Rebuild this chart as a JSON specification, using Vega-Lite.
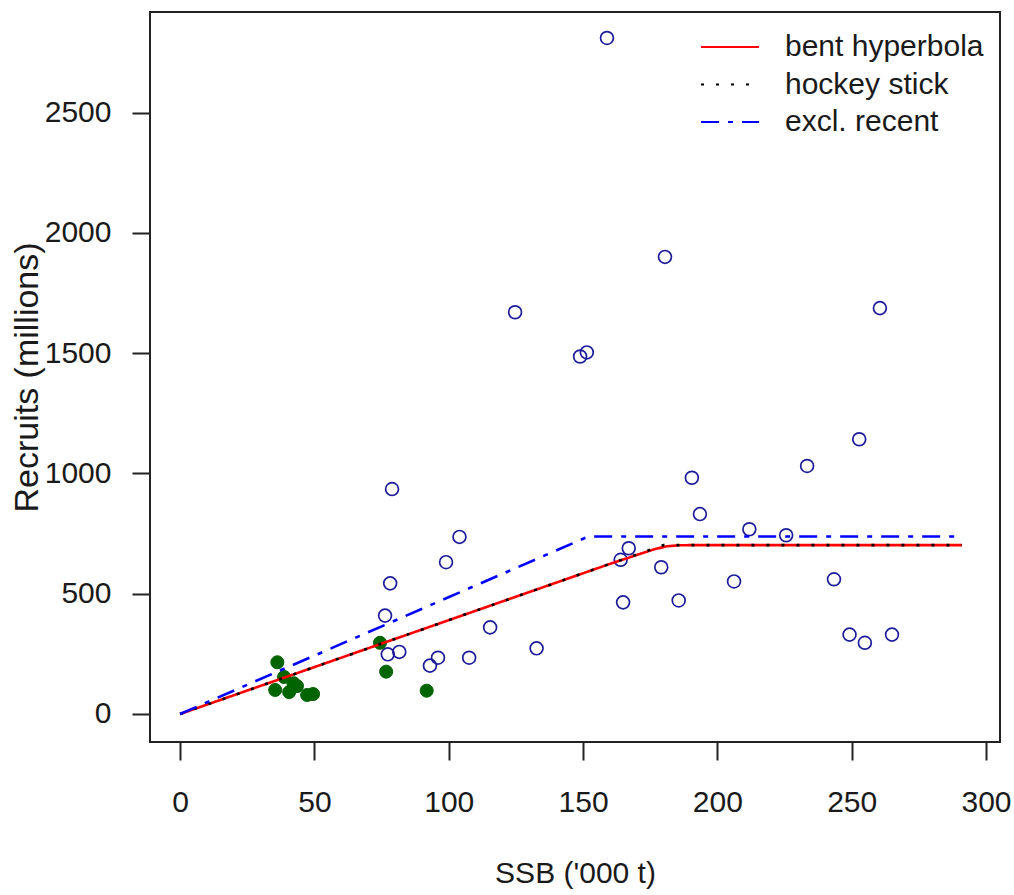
{
  "$schema": "https://vega.github.io/schema/vega-lite/v6.json",
  "width": 850,
  "height": 730,
  "autosize": {"type": "none"},
  "padding": {"left": 150, "top": 12, "right": 14, "bottom": 153},
  "background": "white",
  "config": {
    "view": {"stroke": "#222222", "strokeWidth": 2},
    "font": "Liberation Sans",
    "axis": {
      "grid": false,
      "domain": false,
      "tickColor": "#222222",
      "tickWidth": 2,
      "tickSize": 18,
      "labelFont": "Liberation Sans",
      "labelFontSize": 30,
      "labelColor": "#1a1a1a",
      "titleFont": "Liberation Sans",
      "titleFontSize": 30,
      "titleFontWeight": "normal",
      "titleColor": "#1a1a1a",
      "labelFlush": false,
      "labelOverlap": false,
      "labelBound": false
    }
  },
  "datasets": {
    "pts": [
      {"ssb": 158.9, "rec": 2810, "type": "old"},
      {"ssb": 180.5, "rec": 1900, "type": "old"},
      {"ssb": 260.5, "rec": 1687, "type": "old"},
      {"ssb": 124.7, "rec": 1670, "type": "old"},
      {"ssb": 148.9, "rec": 1486, "type": "old"},
      {"ssb": 151.4, "rec": 1503, "type": "old"},
      {"ssb": 252.8, "rec": 1142, "type": "old"},
      {"ssb": 233.4, "rec": 1031, "type": "old"},
      {"ssb": 190.5, "rec": 982, "type": "old"},
      {"ssb": 78.9, "rec": 935, "type": "old"},
      {"ssb": 193.5, "rec": 831, "type": "old"},
      {"ssb": 211.9, "rec": 768, "type": "old"},
      {"ssb": 225.6, "rec": 743, "type": "old"},
      {"ssb": 104.0, "rec": 736, "type": "old"},
      {"ssb": 99.0, "rec": 631, "type": "old"},
      {"ssb": 167.0, "rec": 689, "type": "old"},
      {"ssb": 164.0, "rec": 641, "type": "old"},
      {"ssb": 78.2, "rec": 543, "type": "old"},
      {"ssb": 179.1, "rec": 610, "type": "old"},
      {"ssb": 206.2, "rec": 551, "type": "old"},
      {"ssb": 243.4, "rec": 560, "type": "old"},
      {"ssb": 164.9, "rec": 464, "type": "old"},
      {"ssb": 185.6, "rec": 472, "type": "old"},
      {"ssb": 249.2, "rec": 330, "type": "old"},
      {"ssb": 254.9, "rec": 296, "type": "old"},
      {"ssb": 265.0, "rec": 330, "type": "old"},
      {"ssb": 76.3, "rec": 409, "type": "old"},
      {"ssb": 115.4, "rec": 360, "type": "old"},
      {"ssb": 77.3, "rec": 248, "type": "old"},
      {"ssb": 81.6, "rec": 258, "type": "old"},
      {"ssb": 93.0, "rec": 201, "type": "old"},
      {"ssb": 96.0, "rec": 234, "type": "old"},
      {"ssb": 107.6, "rec": 234, "type": "old"},
      {"ssb": 132.7, "rec": 273, "type": "old"},
      {"ssb": 36.2, "rec": 215, "type": "recent"},
      {"ssb": 38.7, "rec": 154, "type": "recent"},
      {"ssb": 35.4, "rec": 100, "type": "recent"},
      {"ssb": 40.6, "rec": 91, "type": "recent"},
      {"ssb": 43.5, "rec": 116, "type": "recent"},
      {"ssb": 42.2, "rec": 128, "type": "recent"},
      {"ssb": 47.3, "rec": 79, "type": "recent"},
      {"ssb": 49.5, "rec": 83, "type": "recent"},
      {"ssb": 74.4, "rec": 296, "type": "recent"},
      {"ssb": 76.7, "rec": 176, "type": "recent"},
      {"ssb": 91.8, "rec": 97, "type": "recent"}
    ],
    "fits": [
      {"model": "bent hyperbola", "ssb": 0, "rec": 0},
      {"model": "bent hyperbola", "ssb": 160, "rec": 624},
      {"model": "bent hyperbola", "ssb": 170, "rec": 661},
      {"model": "bent hyperbola", "ssb": 176, "rec": 683},
      {"model": "bent hyperbola", "ssb": 181, "rec": 697},
      {"model": "bent hyperbola", "ssb": 186, "rec": 701.5},
      {"model": "bent hyperbola", "ssb": 192, "rec": 702},
      {"model": "bent hyperbola", "ssb": 291, "rec": 702},
      {"model": "hockey stick", "ssb": 0, "rec": 0},
      {"model": "hockey stick", "ssb": 180, "rec": 702},
      {"model": "hockey stick", "ssb": 291, "rec": 702},
      {"model": "excl. recent", "ssb": 0, "rec": 0},
      {"model": "excl. recent", "ssb": 152, "rec": 738},
      {"model": "excl. recent", "ssb": 291, "rec": 738}
    ]
  },
  "layer": [
    {
      "data": {"name": "pts"},
      "transform": [{"filter": "datum.type === 'old'"}],
      "mark": {"type": "point", "shape": "circle", "filled": false, "stroke": "#1c1c9a", "strokeWidth": 1.7, "size": 165, "opacity": 1},
      "encoding": {
        "x": {"field": "ssb", "type": "quantitative"},
        "y": {"field": "rec", "type": "quantitative"}
      }
    },
    {
      "data": {"name": "pts"},
      "transform": [{"filter": "datum.type === 'recent'"}],
      "mark": {"type": "point", "shape": "circle", "filled": true, "fill": "#006400", "stroke": "#006400", "strokeWidth": 1, "size": 170, "opacity": 1},
      "encoding": {
        "x": {"field": "ssb", "type": "quantitative"},
        "y": {"field": "rec", "type": "quantitative"}
      }
    },
    {
      "data": {"name": "fits"},
      "mark": {"type": "line", "strokeWidth": 2.6, "clip": true},
      "encoding": {
        "x": {
          "field": "ssb", "type": "quantitative",
          "scale": {"domain": [-11.2, 305.2], "nice": false, "zero": false},
          "axis": {"values": [0, 50, 100, 150, 200, 250, 300], "format": "d", "title": "SSB ('000 t)", "labelPadding": 27, "titlePadding": 41}
        },
        "y": {
          "field": "rec", "type": "quantitative",
          "scale": {"domain": [-116.4, 2918], "nice": false, "zero": false},
          "axis": {"values": [0, 500, 1000, 1500, 2000, 2500], "format": "d", "title": "Recruits (millions)", "titleFontSize": 34, "labelPadding": 21, "titlePadding": 0}
        },
        "order": {"field": "ssb", "type": "quantitative"},
        "color": {
          "field": "model", "type": "nominal",
          "scale": {"domain": ["bent hyperbola", "hockey stick", "excl. recent"], "range": ["#ff0000", "#000000", "#0000ff"]},
          "legend": {
            "title": null,
            "orient": "none",
            "legendX": 550,
            "legendY": 20,
            "padding": 0,
            "symbolType": "stroke",
            "symbolSize": 3364,
            "symbolStrokeWidth": 2,
            "labelFont": "Liberation Sans",
            "labelFontSize": 30,
            "labelColor": "#1a1a1a",
            "labelOffset": 25,
            "labelLimit": 0,
            "rowPadding": 7.5,
            "clipHeight": 30
          }
        },
        "strokeDash": {
          "field": "model", "type": "nominal",
          "scale": {"domain": ["bent hyperbola", "hockey stick", "excl. recent"], "range": [[1, 0], [3, 12], [18, 9, 5, 9]]},
          "legend": {
            "title": null,
            "orient": "none",
            "legendX": 550,
            "legendY": 20,
            "padding": 0,
            "symbolType": "stroke",
            "symbolSize": 3364,
            "symbolStrokeWidth": 2,
            "labelFont": "Liberation Sans",
            "labelFontSize": 30,
            "labelColor": "#1a1a1a",
            "labelOffset": 25,
            "labelLimit": 0,
            "rowPadding": 7.5,
            "clipHeight": 30
          }
        }
      }
    }
  ]
}
